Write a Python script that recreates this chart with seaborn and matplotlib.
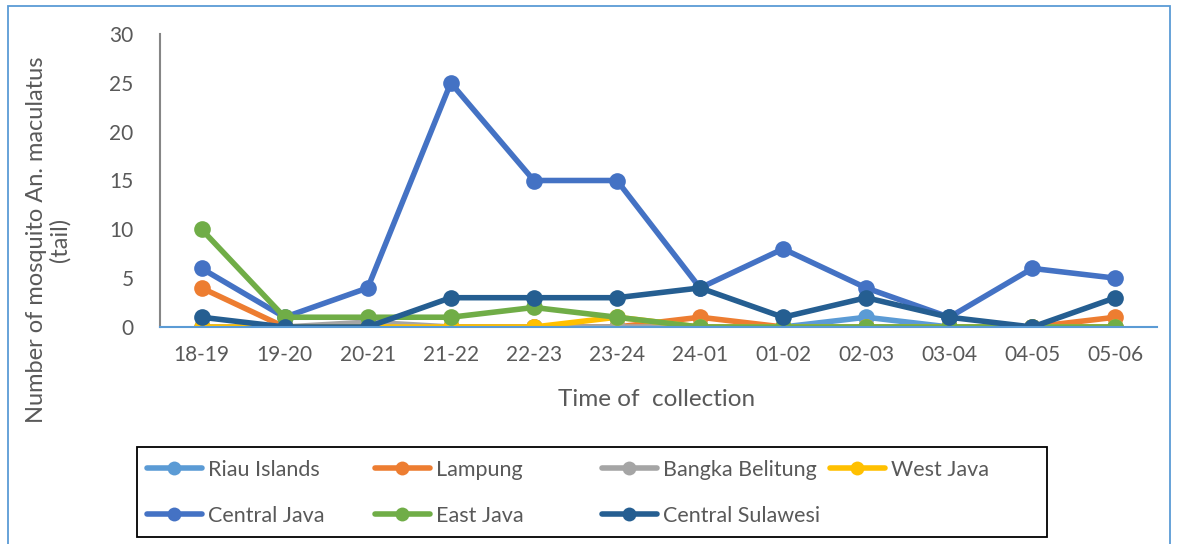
import numpy as np
import pandas as pd
import matplotlib
matplotlib.use("Agg")
import matplotlib.pyplot as plt
from matplotlib.patches import Rectangle
import seaborn as sns

times = ["18-19", "19-20", "20-21", "21-22", "22-23", "23-24",
         "24-01", "01-02", "02-03", "03-04", "04-05", "05-06"]

riau_islands = [0, 0, 0, 0, 0, 0, 0, 0, 1, 0, 0, 0]
lampung = [4, 0, 0, 0, 0, 0, 1, 0, 0, 0, 0, 1]
bangka_belitung = [0, 0, 0.5, 0, 0, 0, 0, 0, 0, 0, 0, 0]
west_java = [0, 0, 0, 0, 0, 1, 0, 0, 0, 0, 0, 0]
central_java = [6, 1, 4, 25, 15, 15, 4, 8, 4, 1, 6, 5]
east_java = [10, 1, 1, 1, 2, 1, 0, 0, 0, 0, 0, 0]
central_sulawesi = [1, 0, 0, 3, 3, 3, 4, 1, 3, 1, 0, 3]

regions = ["Riau Islands", "Lampung", "Bangka Belitung", "West Java",
           "Central Java", "East Java", "Central Sulawesi"]
series = [riau_islands, lampung, bangka_belitung, west_java,
          central_java, east_java, central_sulawesi]
colors = ["#5B9BD5", "#ED7D31", "#A5A5A5", "#FFC000",
          "#4472C4", "#70AD47", "#255E91"]

df = pd.DataFrame({
    "time": times * len(regions),
    "count": np.concatenate(series),
    "region": np.repeat(regions, len(times)),
})

sns.set_theme(style="white")
plt.rcParams["font.family"] = ["Lato", "DejaVu Sans"]
text_color = "#595959"

W, H = 1178, 544
fig = plt.figure(figsize=(W / 100, H / 100), dpi=100)
ax = fig.add_axes([160 / W, 1 - 327 / H, (1157 - 160) / W, (327 - 34) / H])

sns.lineplot(data=df, x="time", y="count", hue="region", hue_order=regions,
             palette=colors, marker="o", markersize=12, markeredgewidth=0,
             linewidth=4.0, sort=False, ax=ax, legend=True)

ax.set_xlim(-0.5, len(times) - 0.5)
ax.set_ylim(0, 30)
ax.set_yticks(np.arange(0, 31, 5))
ax.tick_params(axis="both", length=0, labelsize=15, colors=text_color)
ax.tick_params(axis="y", pad=19)
ax.tick_params(axis="x", pad=13)
ax.set_xlabel("")
ax.set_ylabel("")
for side in ("top", "right"):
    ax.spines[side].set_visible(False)
ax.spines["left"].set_color("#868686")
ax.spines["left"].set_linewidth(1.5)
ax.spines["bottom"].set_color("#5B9BD5")
ax.spines["bottom"].set_linewidth(1.5)
ax.patch.set_alpha(0)

fig.text(657 / W, 1 - 399 / H, "Time of  collection", ha="center", va="center",
         fontsize=17.5, color=text_color)
fig.text(48 / W, 1 - 240 / H, "Number of mosquito An. maculatus\n(tail)",
         ha="center", va="center", rotation=90, fontsize=17, color=text_color,
         multialignment="center", linespacing=1.1)

handles, labels = ax.get_legend_handles_labels()
ax.get_legend().remove()
lookup = dict(zip(labels, handles))
for h in handles:
    h.set_markersize(10)
    h.set_linewidth(4.0)

# legend laid out in four evenly spaced columns
columns = [["Riau Islands", "Central Java"], ["Lampung", "East Java"],
           ["Bangka Belitung", "Central Sulawesi"], ["West Java"]]
col_x = [147, 375, 602, 830]
for names, x0 in zip(columns, col_x):
    leg = fig.legend([lookup[n] for n in names], names, loc="upper left",
                     bbox_to_anchor=(x0 / W, 1 - 460 / H), frameon=False,
                     fontsize=15.5, handlelength=2.55, handletextpad=0.3,
                     labelspacing=1.2, borderpad=0.0, borderaxespad=0.0)
    for t in leg.get_texts():
        t.set_color(text_color)

# legend frame and chart border
fig.patches.append(Rectangle((137 / W, 1 - 537 / H), (1047 - 137) / W, 90 / H,
                             transform=fig.transFigure, fill=False,
                             edgecolor="black", linewidth=1.3))
fig.patches.append(Rectangle((8 / W, -0.05), (1170 - 8) / W, 1.05 - 6 / H,
                             transform=fig.transFigure, fill=False,
                             edgecolor="#5B9BD5", linewidth=1.3))

fig.savefig("out.png", dpi=100)
